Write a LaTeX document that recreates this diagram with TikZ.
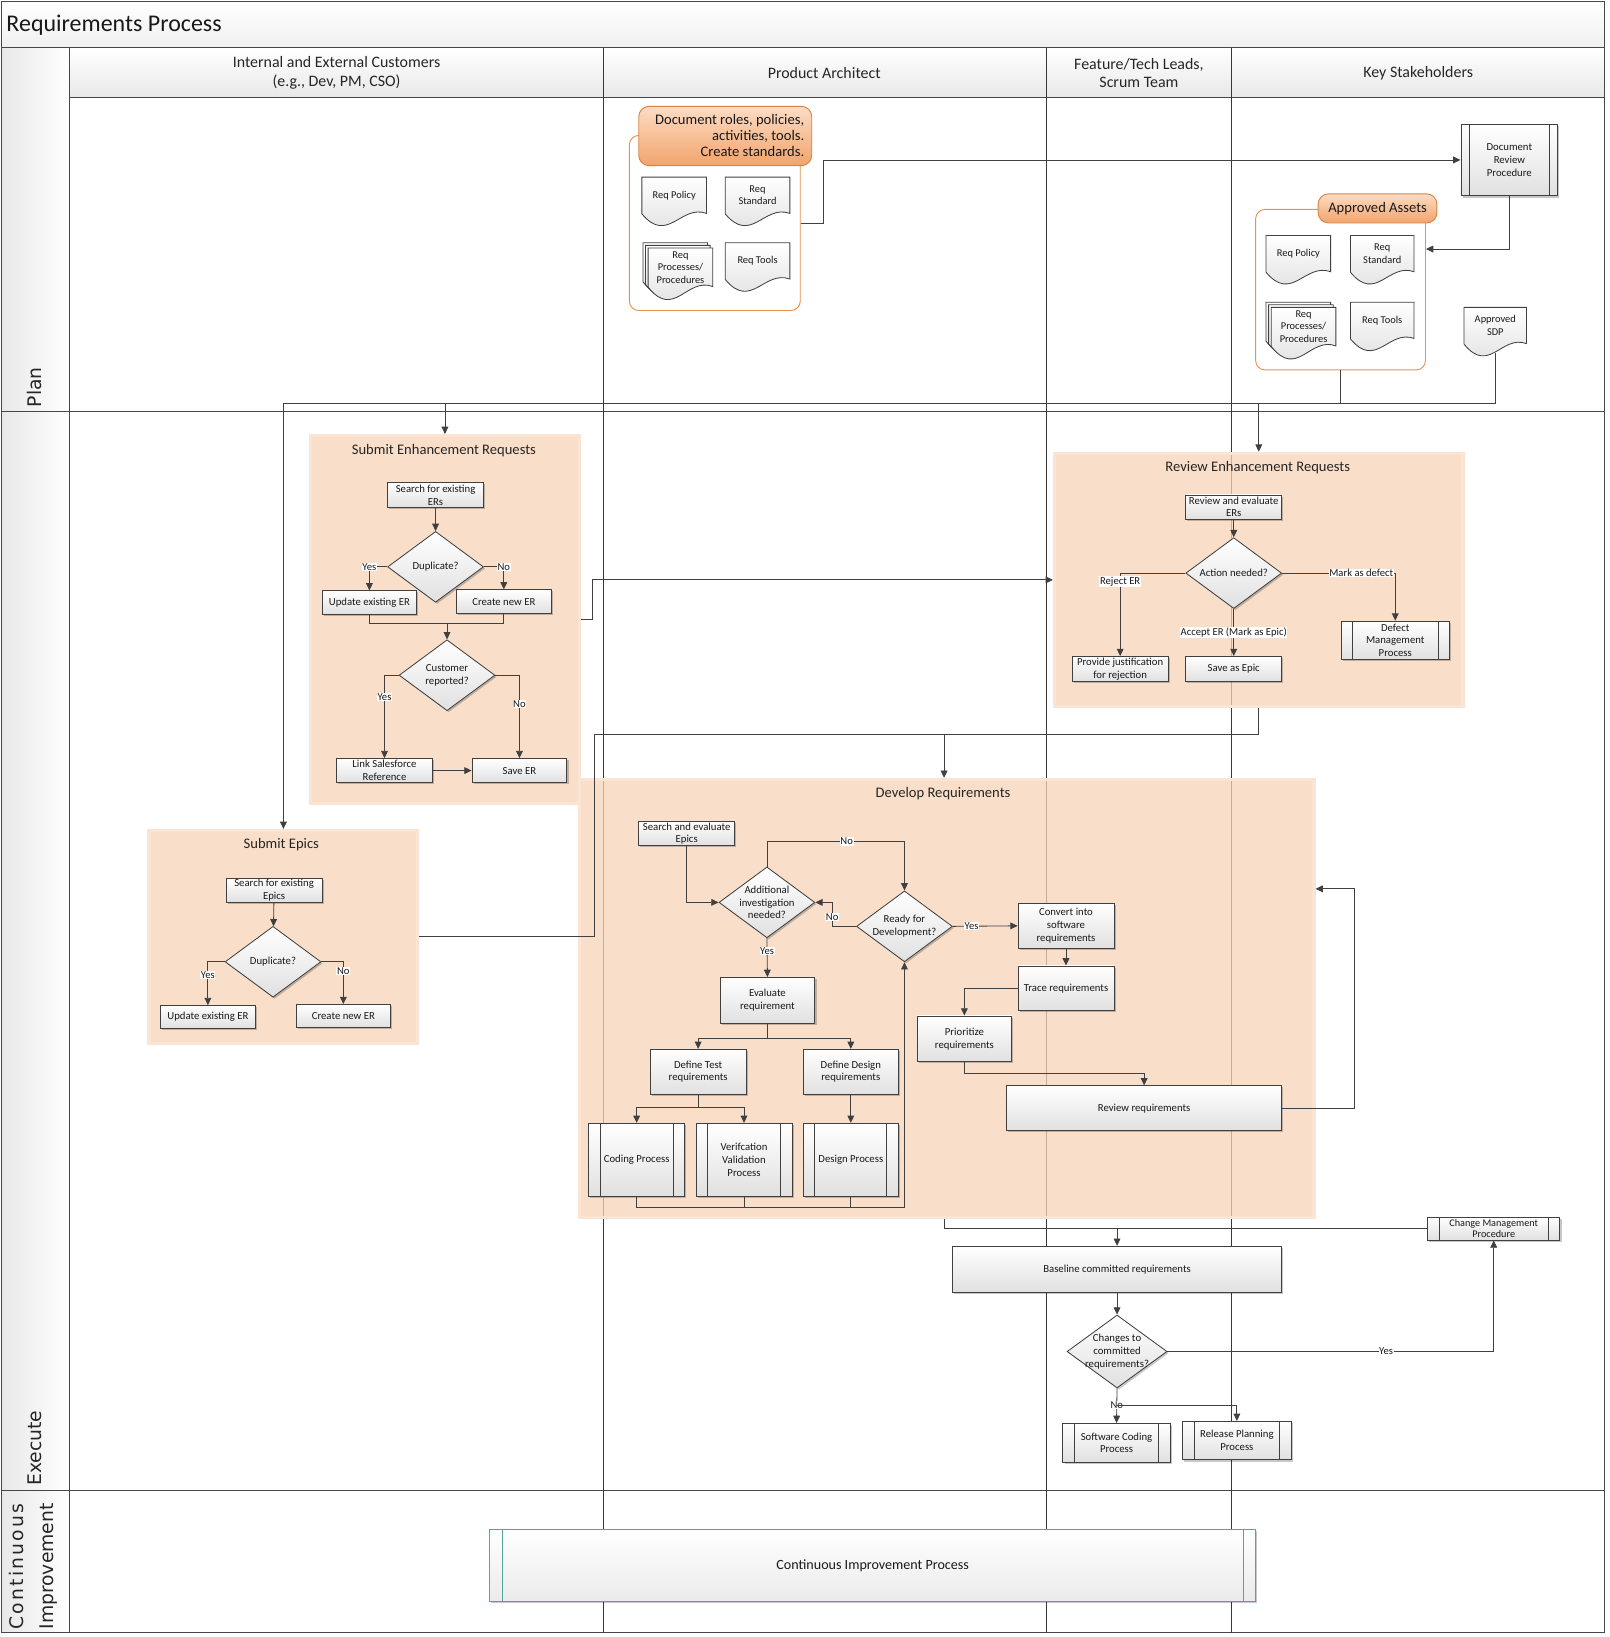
\documentclass[tikz,border=0pt]{standalone}
\usepackage{fontspec}
\setmainfont{Carlito}
\newfontfamily\phasefont{DejaVu Sans}
\usetikzlibrary{shapes.geometric,arrows.meta,calc,shadows}

\definecolor{linec}{HTML}{404040}
\definecolor{grpfill}{HTML}{F7D3B8}
\definecolor{grpedge}{HTML}{FAE4D4}
\definecolor{tabtop}{HTML}{FCDCC4}
\definecolor{tabbot}{HTML}{F2A46C}
\definecolor{tabdraw}{HTML}{D98447}
\definecolor{contdraw}{HTML}{E9914F}
\definecolor{cipdraw}{HTML}{4FA89B}

\newcommand{\myfont}{\fontsize{10.3}{12.2}\selectfont}

\tikzset{
  frm/.style={draw=black!72, line width=0.9pt},
  laneln/.style={draw=black!78, line width=0.8pt},
  ln/.style={draw=linec, line width=0.8pt},
  arr/.style={ln, -{Triangle[width=6.5pt,length=7pt]}},
  lbl/.style={fill=white, inner sep=0.6pt, font=\fontsize{10.2}{11}\selectfont, text=black!90},
  shad/.style={drop shadow={shadow xshift=1.6pt, shadow yshift=-1.6pt, opacity=0.22, fill=black}},
  procbox/.style={draw=linec, line width=0.8pt, top color=white, bottom color=black!12, align=center, inner sep=0pt, font=\myfont, text=black!90, shad},
  predef/.style={procbox, path picture={\draw[linec, line width=0.8pt] ([xshift=#1]path picture bounding box.north west) -- ([xshift=#1]path picture bounding box.south west) ([xshift=-#1]path picture bounding box.north east) -- ([xshift=-#1]path picture bounding box.south east);}},
  predef/.default=11pt,
  cipbox/.style={draw=cipdraw, line width=0.9pt, top color=white, bottom color=black!8, align=center, inner sep=0pt, font=\fontsize{13.5}{16}\selectfont, text=black!90, shad, path picture={\draw[cipdraw, line width=0.8pt] ([xshift=12pt]path picture bounding box.north west) -- ([xshift=12pt]path picture bounding box.south west) ([xshift=-12pt]path picture bounding box.north east) -- ([xshift=-12pt]path picture bounding box.south east);}},
  decision/.style={diamond, draw=linec, line width=0.8pt, top color=white, bottom color=black!12, minimum width=92pt, minimum height=68pt, inner sep=0pt, shad},
  dtext/.style={align=center, font=\myfont, inner sep=0pt, text=black!90},
  grpbox/.style={fill=grpfill, fill opacity=0.75, draw=grpedge, line width=3pt, inner sep=0pt},
  gtitle/.style={font=\fontsize{14}{16}\selectfont, text=black!85, inner sep=0pt},
  hdr/.style={align=center, font=\fontsize{15.3}{18}\selectfont, text=black!85, inner sep=0pt},
  phase/.style={rotate=90, anchor=west, inner sep=0pt, font=\phasefont\fontsize{18}{28}\selectfont, text=black!85},
  docsty/.style={draw=linec, line width=0.8pt, top color=white, bottom color=black!14},
  doctext/.style={align=center, font=\fontsize{10}{12}\selectfont, inner sep=0pt, text=black!90},
  cont/.style={draw=contdraw, line width=0.9pt, fill=white, rounded corners=9pt, inner sep=0pt},
  tabbox/.style={draw=tabdraw, line width=0.9pt, top color=tabtop, bottom color=tabbot, rounded corners=10pt, inner sep=0pt},
}

\newcommand{\docshape}[4]{%
  \shade[docsty] ({#1},{#2}) -- ({#1+#3},{#2}) -- ({#1+#3},{#2+0.74*#4}) .. controls ({#1+0.6*#3},{#2+0.55*#4}) and ({#1+0.4*#3},{#2+1.38*#4}) .. ({#1},{#2+0.75*#4}) -- cycle;}
\newcommand{\docnode}[6]{%
  \docshape{#2}{#3}{#4}{#5}
  \node[doctext] (#1) at ({#2+0.5*#4},{#3+0.37*#5}) {#6};}
\newcommand{\multidoc}[6]{%
  \docshape{#2-5}{#3-5}{#4}{#5}
  \docshape{#2-2.5}{#3-2.5}{#4}{#5}
  \docnode{#1}{#2}{#3}{#4}{#5}{#6}}

\begin{document}
\begin{tikzpicture}[x=1pt,y=-1pt]
\useasboundingbox (0,0) rectangle (1545,1571);
\fill[white] (0,0) rectangle (1545,1571);

% ---------- backgrounds ----------
\shade[top color=white,bottom color=black!6] (1,1) rectangle (1540,46);
\foreach \a/\b in {67/579,579/1004,1004/1182,1182/1540}
  \shade[top color=white,bottom color=black!9] (\a,46) rectangle (\b,94);
\foreach \a/\b in {46/395,395/1430,1430/1567}
  \shade[left color=black!9,right color=white] (1,\a) rectangle (67,\b);

% ---------- frame ----------
\draw[frm] (1,1) rectangle (1540,1567);
\draw[frm] (1,46) -- (1540,46);
\draw[frm] (67,94) -- (1540,94);
\draw[frm] (1,395) -- (1540,395);
\draw[frm] (1,1430) -- (1540,1430);
\draw[frm] (67,46) -- (67,1567);
\foreach \x in {579,1004,1182} \draw[laneln] (\x,46) -- (\x,1567);

% ---------- titles ----------
\node[anchor=west, font=\fontsize{23}{27}\selectfont, inner sep=0pt, text=black!90] (title) at (6,24) {Requirements Process};
\node[hdr] (h1) at (323,70) {Internal and External Customers\\(e.g., Dev, PM, CSO)};
\node[hdr] (h2) at (791,70) {Product Architect};
\node[hdr] (h3) at (1093,70) {Feature/Tech Leads,\\Scrum Team};
\node[hdr] (h4) at (1361,70) {Key Stakeholders};

\node[phase] (phP) at (33,391) {Plan};
\node[phase] (phE) at (33,1426) {Execute};
\node[phase, align=left] (phC) at (32,1564) {\makebox[121pt][s]{C\hfil o\hfil n\hfil t\hfil i\hfil n\hfil u\hfil o\hfil u\hfil s}\\Improvement};

% ---------- Plan: Product Architect ----------
\node[cont, minimum width=164pt, minimum height=168pt] (pc) at (686,214) {};
\node[tabbox, minimum width=166pt, minimum height=57pt] (ptab) at (696,130.5) {};
\node[anchor=east, align=right, font=\fontsize{14}{15.5}\selectfont, inner sep=0pt, text=black!90] (ptabt) at (772,130) {Document roles, policies,\\activities, tools.\\Create standards.};
\docnode{pa1}{616}{170}{62}{47}{Req Policy}
\docnode{pa2}{696}{170}{62}{47}{Req\\Standard}
\multidoc{pa3}{622}{238}{62}{50}{Req\\Processes/\\Procedures}
\docnode{pa4}{696}{233}{62}{47}{Req Tools}

% ---------- Plan: Key Stakeholders ----------
\node[predef=8pt, minimum width=93pt, minimum height=69pt] (drp) at (1448.5,153.5) {Document\\Review\\Procedure};
\node[cont, minimum width=163pt, minimum height=154pt] (aa) at (1286.5,278) {};
\node[tabbox, minimum width=114pt, minimum height=28pt, font=\fontsize{14}{16}\selectfont, text=black!90] (aatab) at (1322,200) {Approved Assets};
\docnode{ka1}{1215}{226}{62}{47}{Req Policy}
\docnode{ka2}{1296}{226}{61}{47}{Req\\Standard}
\multidoc{ka3}{1220}{295}{62}{50}{Req\\Processes/\\Procedures}
\docnode{ka4}{1296}{290}{61}{47}{Req Tools}
\docnode{sdp}{1405}{295}{60}{47}{Approved\\SDP}
\coordinate (sdpb) at (1435,339);

\draw[arr] (pc.east) -- ++(22,0) |- (drp.west);
\draw[arr] (drp.south) |- ([yshift=39pt]aa.east);

% ---------- groups ----------
\node[grpbox, minimum width=258pt, minimum height=353pt] (gSER) at (427,594.5) {};
\node[grpbox, minimum width=392pt, minimum height=243pt] (gRER) at (1208,556.5) {};
\node[grpbox, minimum width=258pt, minimum height=204pt] (gSE) at (272,899) {};
\node[grpbox, minimum width=705pt, minimum height=420pt] (gDR) at (908.5,958) {};
\node[gtitle] (tSER) at (426,432) {Submit Enhancement Requests};
\node[gtitle] (tRER) at (1207,449) {Review Enhancement Requests};
\node[gtitle] (tSE) at (270,811) {Submit Epics};
\node[gtitle] (tDR) at (905,762) {Develop Requirements};

% bus from plan
\coordinate (busL) at (272,387);
\draw[ln] (sdpb) |- (busL);
\draw[ln] (aa.south) -- (aa.south |- busL);
\draw[arr] (busL) -- (busL |- gSE.north);
\draw[arr] (gSER.north |- busL) -- (gSER.north);
\draw[arr] (gRER.north |- busL) -- (gRER.north);

% ---------- Submit Enhancement Requests ----------
\node[procbox, minimum width=92pt, minimum height=24pt] (s1) at (418,475) {Search for existing\\ERs};
\node[decision] (d1) at (418,544) {};
\node[dtext] (d1t) at (d1) {Duplicate?};
\node[procbox, minimum width=91pt, minimum height=23pt] (u1) at (354.5,578.5) {Update existing ER};
\node[procbox, minimum width=91pt, minimum height=23pt] (c1) at (483.5,577.5) {Create new ER};
\node[decision] (d2) at (429,648) {};
\node[dtext] (d2t) at (d2) {Customer\\reported?};
\node[procbox, minimum width=92pt, minimum height=23pt] (l1) at (369,739.5) {Link Salesforce\\Reference};
\node[procbox, minimum width=91pt, minimum height=23pt] (sv1) at (498.5,739.5) {Save ER};

\draw[arr] (s1) -- (d1);
\draw[arr] (d1.west) -| node[lbl,pos=0.5]{Yes} (u1.north);
\draw[arr] (d1.east) -| node[lbl,pos=0.5]{No} (c1.north);
\coordinate (m1) at (429,598);
\draw[ln] (u1.south) |- (m1);
\draw[ln] (c1.south) |- (m1);
\draw[arr] (m1) -- (d2.north);
\draw[arr] (d2.west) -| node[lbl,pos=0.63]{Yes} (l1.north);
\draw[arr] (d2.east) -| node[lbl,pos=0.675]{No} (sv1.north);
\draw[arr] (l1) -- (sv1);

\draw[arr] (gSER.east) -- ++(11,0) |- (gRER.west);

% ---------- Review Enhancement Requests ----------
\node[procbox, minimum width=92pt, minimum height=23pt] (r1) at (1184,486.5) {Review and evaluate\\ERs};
\node[decision] (d3) at (1184,550) {};
\node[dtext] (d3t) at (d3) {Action needed?};
\node[procbox, minimum width=92pt, minimum height=24pt] (pj) at (1075,642) {Provide justification\\for rejection};
\node[procbox, minimum width=92pt, minimum height=24pt] (se) at (1184,642) {Save as Epic};
\node[predef, minimum width=104pt, minimum height=37pt] (dm) at (1339,614.5) {Defect\\Management\\Process};

\draw[arr] (r1) -- (d3);
\draw[arr] (d3.west) -| node[lbl,pos=0.55]{Reject ER} (pj.north);
\draw[arr] (d3.south) -- node[lbl]{Accept ER (Mark as Epic)} (se.north);
\draw[arr] (d3.east) -| node[lbl,pos=0.35]{Mark as defect} (dm.north);

% ---------- Submit Epics ----------
\node[procbox, minimum width=92pt, minimum height=23pt] (e1) at (263,854.5) {Search for existing\\Epics};
\node[decision] (d4) at (262,923) {};
\node[dtext] (d4t) at (d4) {Duplicate?};
\node[procbox, minimum width=91pt, minimum height=22pt] (u2) at (199.5,976) {Update existing ER};
\node[procbox, minimum width=91pt, minimum height=22pt] (c2) at (329.5,975) {Create new ER};

\draw[arr] (e1) -- (d4);
\draw[arr] (d4.west) -| node[lbl,pos=0.655]{Yes} (u2.north);
\draw[arr] (d4.east) -| node[lbl,pos=0.61]{No} (c2.north);

\coordinate (j0) at (570,705);
\coordinate (j1) at (906,705);
\draw[ln] (gSE.east) -| (j0) -- (j1);
\draw[ln] (gRER.south) |- (j1);
\draw[arr] (j1) -- (j1 |- gDR.north);

% ---------- Develop Requirements ----------
\node[procbox, minimum width=92pt, minimum height=23pt] (de1) at (659,800) {Search and evaluate\\Epics};
\node[decision] (d5) at (736,866) {};
\node[dtext] (d5t) at (d5) {Additional\\investigation\\needed?};
\node[decision] (d6) at (868,889) {};
\node[dtext] (d6t) at (d6) {Ready for\\Development?};
\node[procbox, minimum width=91pt, minimum height=44pt] (ev) at (736.5,960) {Evaluate\\requirement};
\node[procbox, minimum width=92pt, minimum height=43pt] (dt) at (670,1028.5) {Define Test\\requirements};
\node[procbox, minimum width=91pt, minimum height=43pt] (dd) at (816.5,1028.5) {Define Design\\requirements};
\node[predef, minimum width=92pt, minimum height=70pt] (cp) at (611,1113) {Coding Process};
\node[predef, minimum width=92pt, minimum height=70pt] (vv) at (714,1113) {Verifcation\\Validation\\Process};
\node[predef, minimum width=91pt, minimum height=70pt] (dp) at (816.5,1113) {Design Process};
\node[procbox, minimum width=92pt, minimum height=43pt] (cv) at (1023,888.5) {Convert into\\software\\requirements};
\node[procbox, minimum width=92pt, minimum height=43pt] (tr) at (1023,948.5) {Trace requirements};
\node[procbox, minimum width=91pt, minimum height=44pt] (pr) at (925.5,997) {Prioritize\\requirements};
\node[procbox, minimum width=264pt, minimum height=43pt] (rv) at (1098,1063.5) {Review requirements};

\draw[arr] (de1.south) |- (d5.west);
\draw[arr] (d5.north) -- ++(0,-24) -| node[lbl,pos=0.29]{No} (d6.north);
\draw[arr] (d6.west) -- ++(-23,0) |- node[lbl,pos=0.2]{No} (d5.east);
\draw[arr] (d5.south) -- node[lbl,pos=0.34]{Yes} (ev.north);
\draw[arr] (d6.east) -- node[lbl,pos=0.29]{Yes} (cv.west);
\draw[arr] (ev.south) -- ++(0,14) -| (dt.north);
\draw[arr] (ev.south) -- ++(0,14) -| (dd.north);
\draw[arr] (dt.south) -- ++(0,12) -| (cp.north);
\draw[arr] (dt.south) -- ++(0,12) -| (vv.north);
\draw[arr] (dd) -- (dp);
\draw[arr] (cp.south) -- ++(0,10) -| (d6.south);
\draw[ln] (vv.south) -- ++(0,10);
\draw[ln] (dp.south) -- ++(0,10);
\draw[arr] (cv) -- (tr);
\draw[arr] (tr.west) -| (pr.north);
\draw[arr] (pr.south) -- ++(0,11) -| (rv.north);
\draw[arr] (rv.east) -- ++(69,0) |- ([yshift=105pt]gDR.east);

% ---------- Baseline and below ----------
\node[predef, minimum width=127pt, minimum height=22pt, font=\fontsize{9.8}{11}\selectfont] (cm) at (1433.5,1179) {Change Management\\Procedure};
\node[procbox, minimum width=316pt, minimum height=44pt] (bl) at (1072,1218) {Baseline committed requirements};
\node[decision, minimum width=96pt, minimum height=70pt] (d7) at (1072,1297) {};
\node[dtext] (d7t) at (d7) {Changes to\\committed\\requirements?};
\node[predef, minimum width=103pt, minimum height=37pt] (sc) at (1071.5,1384.5) {Software Coding\\Process};
\node[predef, minimum width=104pt, minimum height=37pt] (rp) at (1187,1382.5) {Release Planning\\Process};

\draw[ln] (j1 |- gDR.south) |- (cm.west);
\draw[arr] (bl.north |- cm.west) -- (bl.north);
\draw[arr] (bl) -- (d7);
\draw[arr] (d7.east) -| node[lbl,pos=0.335]{Yes} (cm.south);
\draw[arr] (d7.south) -- node[lbl,pos=0.47]{No} (sc.north);
\coordinate (j3) at (1072,1349);
\draw[arr] (j3) -| (rp.north);

% ---------- Continuous Improvement ----------
\node[cipbox, minimum width=735pt, minimum height=69pt] (cip) at (837.5,1502.5) {Continuous Improvement Process};

\end{tikzpicture}
\end{document}
